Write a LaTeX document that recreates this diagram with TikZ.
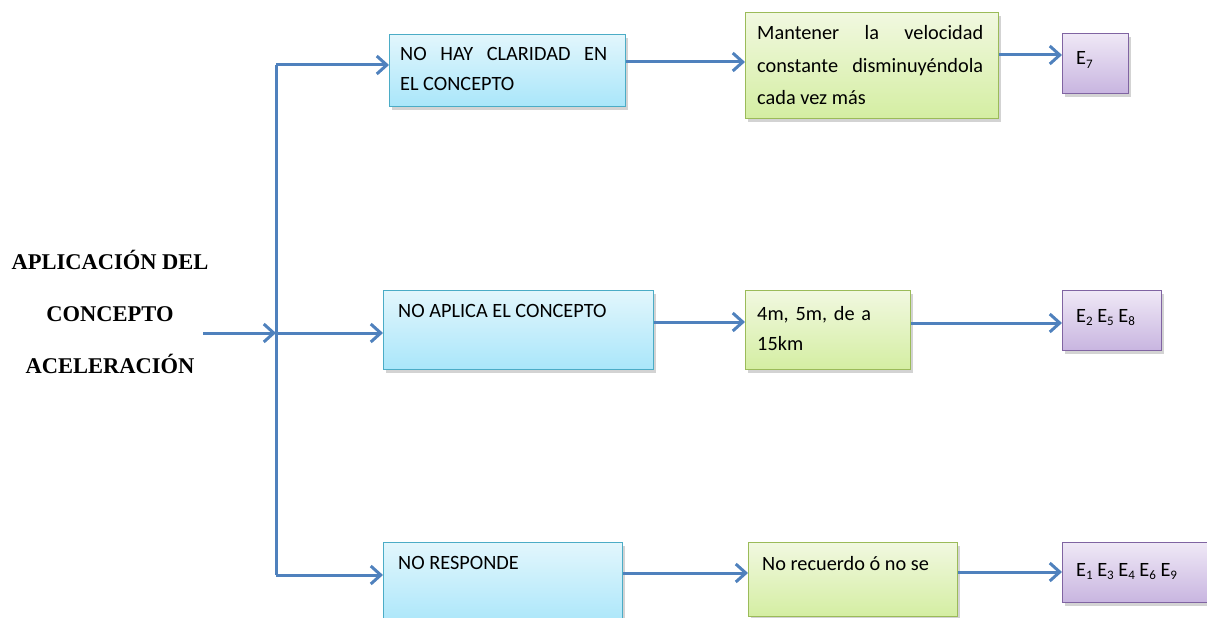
\documentclass[tikz,border=0pt]{standalone}
\usepackage{fontspec}
\setmainfont{Carlito}
\newfontfamily\titlefont{Liberation Serif}
\usetikzlibrary{arrows.meta,shadows}
\definecolor{arrowblue}{HTML}{4F81BD}
\definecolor{bluetop}{HTML}{E2F6FC}
\definecolor{bluebot}{HTML}{A9E6FA}
\definecolor{blueedge}{HTML}{4BACC6}
\definecolor{greentop}{HTML}{F1F8E0}
\definecolor{greenbot}{HTML}{D4EEA2}
\definecolor{greenedge}{HTML}{9BBB59}
\definecolor{purptop}{HTML}{EFE8F6}
\definecolor{purpbot}{HTML}{C8B5E0}
\definecolor{purpedge}{HTML}{8064A2}
% student label with a small lowered index
\newcommand\est[1]{E\raisebox{-0.35ex}{\fontsize{13}{13}\selectfont #1}}
\tikzset{
  x=1pt, y=-1pt,
  box/.style={draw, line width=1.4pt, inner sep=0pt, anchor=north west,
    drop shadow={shadow xshift=2pt, shadow yshift=-3pt, opacity=0.35}},
  bluebox/.style={box, draw=blueedge, top color=bluetop, bottom color=bluebot},
  greenbox/.style={box, draw=greenedge, top color=greentop, bottom color=greenbot},
  purplebox/.style={box, draw=purpedge, top color=purptop, bottom color=purpbot},
  boxtext/.style={anchor=base west, inner sep=0pt, align=justify,
    font=\fontsize{20.3}{30}\selectfont},
  arr/.style={draw=arrowblue, line width=3pt,
    -{Straight Barb[length=10pt, width=18pt, line width=3pt]}},
  spine/.style={draw=arrowblue, line width=3pt}
}
\begin{document}
\begin{tikzpicture}
\useasboundingbox (0,0) rectangle (1207,618);

% title (baseline anchor sits on the last line)
\node[align=center, inner sep=0pt, anchor=base,
      font=\titlefont\bfseries\fontsize{22.5}{52}\selectfont] (title) at (110,373)
  {APLICACIÓN DEL\\CONCEPTO\\ACELERACIÓN};

% first column
\node[bluebox, minimum width=236pt, minimum height=72pt] (b1) at (389,34) {};
\node[bluebox, minimum width=270pt, minimum height=79pt] (b2) at (383,290) {};
\node[bluebox, minimum width=239pt, minimum height=84pt] (b3) at (383,542) {};
\node[boxtext, text width=207pt, font=\fontsize{20.3}{29}\selectfont] (t1) at (400,61)
  {NO HAY CLARIDAD EN\linebreak EL CONCEPTO};
\node[boxtext] (t2) at (398,317) {NO APLICA EL CONCEPTO};
\node[boxtext] (t3) at (398,569) {NO RESPONDE};

% second column
\node[greenbox, minimum width=253pt, minimum height=106pt] (g1) at (745,12) {};
\node[greenbox, minimum width=165pt, minimum height=79pt] (g2) at (745,290) {};
\node[greenbox, minimum width=209pt, minimum height=74pt] (g3) at (748,542) {};
\node[boxtext, text width=226pt, font=\fontsize{20.3}{32.5}\selectfont] (u1) at (757,40)
  {Mantener la velocidad\linebreak constante disminuyéndola\linebreak cada vez más};
\node[boxtext, text width=140pt, align=left] (u2) at (757,320) {4m, 5m, de a\\15km};
\node[boxtext] (u3) at (762,570) {No recuerdo ó no se};

% third column
\node[purplebox, minimum width=66pt, minimum height=60pt] (p1) at (1062,33) {};
\node[purplebox, minimum width=99pt, minimum height=60pt] (p2) at (1062,290) {};
\node[purplebox, minimum width=150pt, minimum height=60pt] (p3) at (1062,542) {};
\node[boxtext] (v1) at (1076,65) {\est{7}};
\node[boxtext] (v2) at (1076,322) {\est{2} \est{5} \est{8}};
\node[boxtext] (v3) at (1076,576) {\est{1} \est{3} \est{4} \est{6} \est{9}};

% branching spine
\coordinate (start) at (203,333);
\coordinate (hub) at (276,333);
\coordinate (top) at (276,65);
\coordinate (bottom) at (276,575);
\draw[spine] (top) -- (bottom);
\draw[arr] (start) -- (hub);
\draw[arr] (top) -- (top -| b1.west);
\draw[arr] (hub) -- (hub -| b2.west);
\draw[arr] (bottom) -- (bottom -| b3.west);

% links between columns
\draw[arr] (b1.east |- 0,62) -- (g1.west |- 0,62);
\draw[arr] (b2.east |- 0,322) -- (g2.west |- 0,322);
\draw[arr] (b3.east |- 0,573) -- (g3.west |- 0,573);
\draw[arr] (g1.east |- 0,55) -- (p1.west |- 0,55);
\draw[arr] (g2.east |- 0,323) -- (p2.west |- 0,323);
\draw[arr] (g3.east |- 0,572) -- (p3.west |- 0,572);
\end{tikzpicture}
\end{document}
